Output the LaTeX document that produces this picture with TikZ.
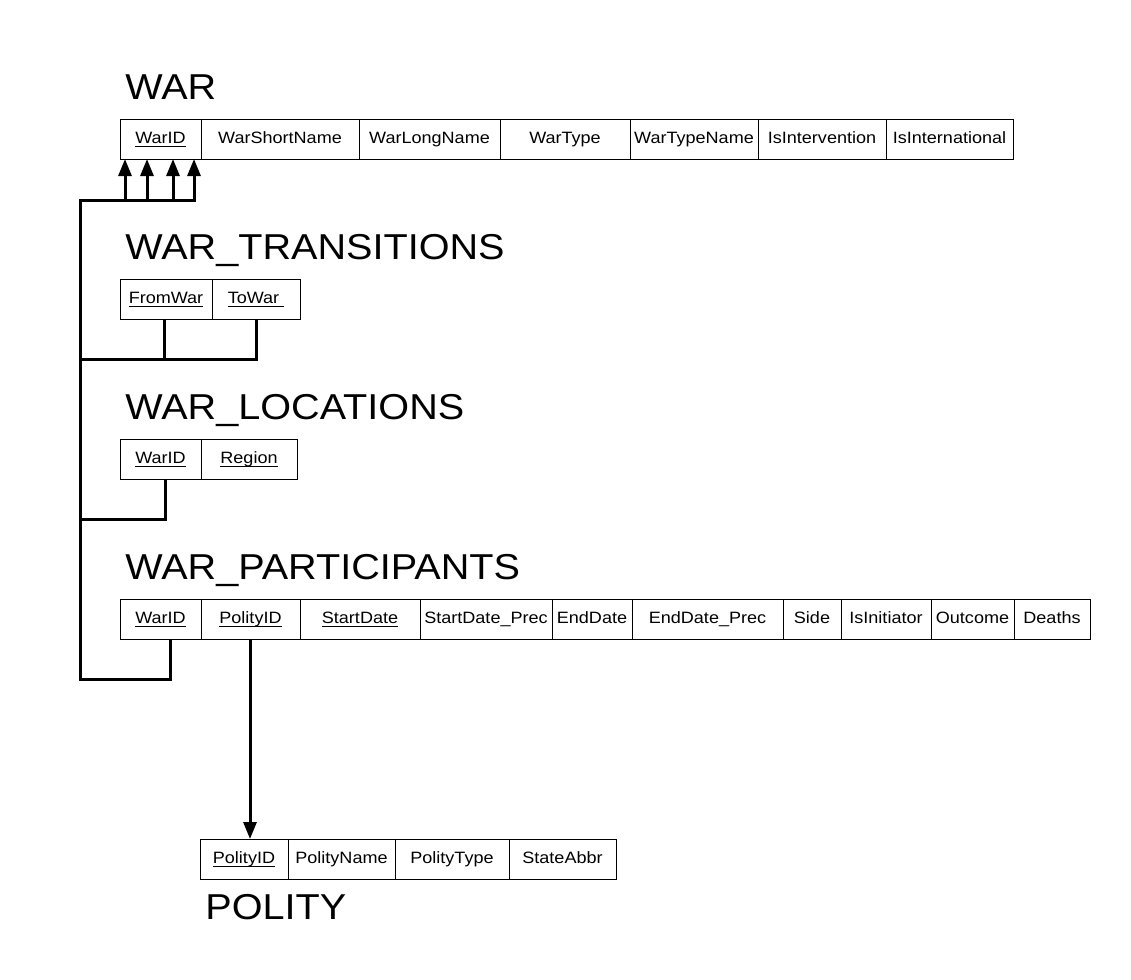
\documentclass[tikz,border=0pt]{standalone}
\usepackage{fontspec}
\setmainfont{Liberation Sans}[FakeStretch=1.1]
\usetikzlibrary{positioning,arrows.meta}
\newcommand{\pk}[1]{\setbox0\hbox{#1}\rlap{\rule[-1.7pt]{\wd0}{0.45pt}}\box0}
\tikzset{
  cell/.style={draw, line width=0.5pt, minimum height=20pt, minimum width=#1*0.5pt,
    inner sep=0pt, outer sep=0pt, anchor=west, text height=6pt, text depth=2pt,
    font=\fontsize{8.2pt}{10pt}\selectfont},
  tabletitle/.style={anchor=base west, inner sep=0pt, font=\fontsize{18pt}{20pt}\selectfont},
  fk/.style={line width=1.5pt},
  fkarrow/.style={fk, -{Triangle[length=8.5pt,width=6.5pt]}}
}
\begin{document}
\begin{tikzpicture}[x=0.5pt,y=-0.5pt]
  \useasboundingbox (0,0) rectangle (1131,980);
  % WAR
  \node[tabletitle] (wartitle) at (125,99) {WAR};
  \node[cell=81] (war1) at (120,139) {\pk{WarID}};
  \node[cell=158, right=0pt of war1] (war2) {WarShortName};
  \node[cell=141, right=0pt of war2] (war3) {WarLongName};
  \node[cell=130, right=0pt of war3] (war4) {WarType};
  \node[cell=128, right=0pt of war4] (war5) {WarTypeName};
  \node[cell=128, right=0pt of war5] (war6) {IsIntervention};
  \node[cell=127, right=0pt of war6] (war7) {IsInternational};
  % WAR_TRANSITIONS
  \node[tabletitle] (trtitle) at (125,259) {WAR\_TRANSITIONS};
  \node[cell=92] (tr1) at (120,299) {\pk{FromWar}};
  \node[cell=88, right=0pt of tr1] (tr2) {\pk{ToWar\ }};
  % WAR_LOCATIONS
  \node[tabletitle] (loctitle) at (125,419) {WAR\_LOCATIONS};
  \node[cell=81] (loc1) at (120,459) {\pk{WarID}};
  \node[cell=96, right=0pt of loc1] (loc2) {\pk{Region}};
  % WAR_PARTICIPANTS
  \node[tabletitle] (partitle) at (125,579) {WAR\_PARTICIPANTS};
  \node[cell=81] (par1) at (120,619) {\pk{WarID}};
  \node[cell=99, right=0pt of par1] (par2) {\pk{PolityID}};
  \node[cell=120, right=0pt of par2] (par3) {\pk{StartDate}};
  \node[cell=132, right=0pt of par3] (par4) {StartDate\_Prec};
  \node[cell=80, right=0pt of par4] (par5) {EndDate};
  \node[cell=151, right=0pt of par5] (par6) {EndDate\_Prec};
  \node[cell=58, right=0pt of par6] (par7) {Side};
  \node[cell=90, right=0pt of par7] (par8) {IsInitiator};
  \node[cell=83, right=0pt of par8] (par9) {Outcome};
  \node[cell=76, right=0pt of par9] (par10) {Deaths};
  % POLITY
  \node[cell=88] (pol1) at (200,859) {\pk{PolityID}};
  \node[cell=107, right=0pt of pol1] (pol2) {PolityName};
  \node[cell=114, right=0pt of pol2] (pol3) {PolityType};
  \node[cell=107, right=0pt of pol3] (pol4) {StateAbbr};
  \node[tabletitle] (poltitle) at (205,919) {POLITY};
  % foreign keys
  \coordinate (busTop) at (80,200);
  \draw[fkarrow] ([xshift=-1pt]tr1.south) -- ++(0,40) -| (busTop) -| ([xshift=2.5pt]war1.south west);
  \draw[fkarrow] (tr2.south) -- ++(0,40) -| (busTop) -| ([xshift=13.5pt]war1.south west);
  \draw[fkarrow] ([xshift=2.25pt]loc1.south) -- ++(0,40) -| (busTop) -| ([xshift=26.5pt]war1.south west);
  \draw[fkarrow] ([xshift=5pt]par1.south) -- ++(0,40) -| (busTop) -| ([xshift=37pt]war1.south west);
  \draw[fkarrow] ([xshift=-0.25pt]par2.south) -- ([xshift=-0.25pt]par2.south |- pol1.north);
\end{tikzpicture}
\end{document}
